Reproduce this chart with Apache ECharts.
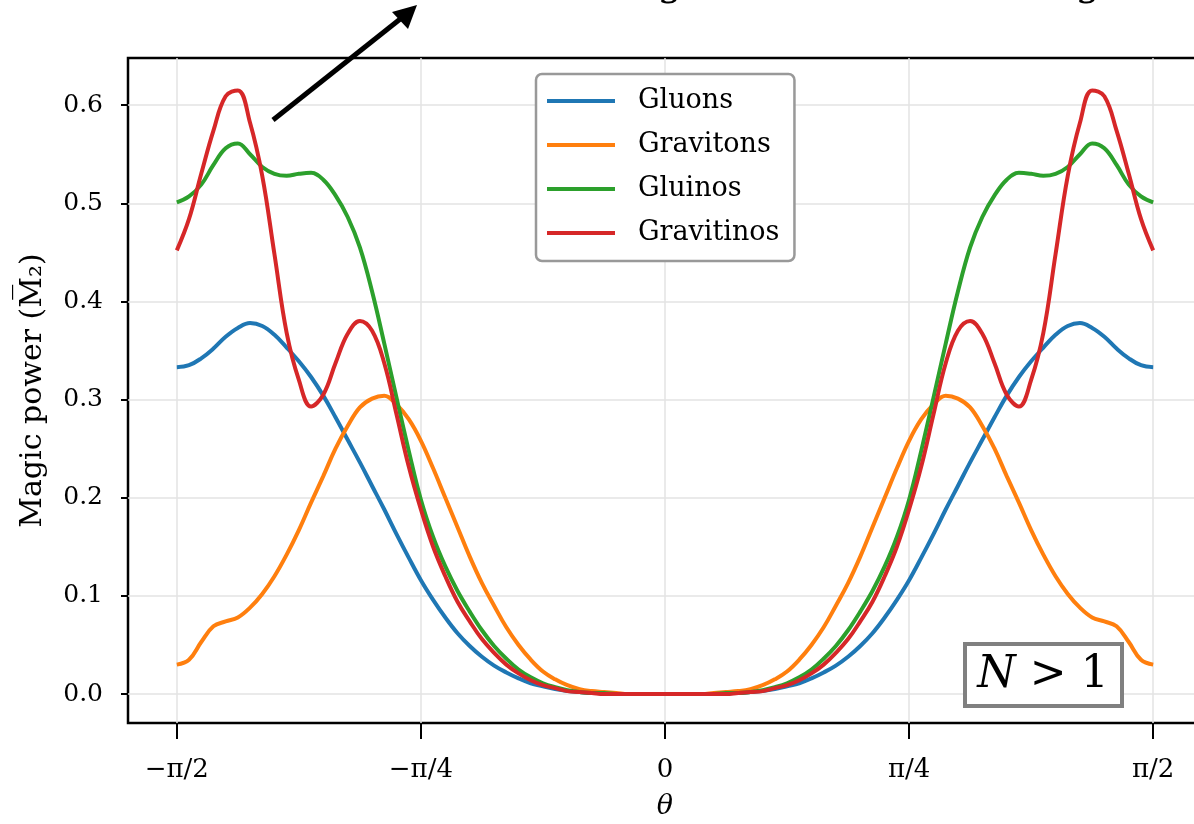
<!DOCTYPE html>
<html>
<head>
<meta charset="utf-8">
<script src="https://cdn.jsdelivr.net/npm/echarts@6/dist/echarts.min.js"></script>
<style>
  html, body { margin: 0; padding: 0; background: #fff; }
  #chart { width: 1194px; height: 824px; }
</style>
</head>
<body>
<div id="chart"></div>
<script>
// theta / pi
const thetaOverPi = [-0.5, -0.4875, -0.475, -0.4625, -0.45, -0.4375, -0.425, -0.4125, -0.4, -0.3875,
  -0.375, -0.3625, -0.35, -0.3375, -0.325, -0.3125, -0.3, -0.2875, -0.275, -0.2625,
  -0.25, -0.2375, -0.225, -0.2125, -0.2, -0.1875, -0.175, -0.1625, -0.15, -0.1375,
  -0.125, -0.1125, -0.1, -0.0875, -0.075, -0.0625, -0.05, -0.0375, -0.025, -0.0125,
  0,
  0.0125, 0.025, 0.0375, 0.05, 0.0625, 0.075, 0.0875, 0.1, 0.1125, 0.125,
  0.1375, 0.15, 0.1625, 0.175, 0.1875, 0.2, 0.2125, 0.225, 0.2375, 0.25,
  0.2625, 0.275, 0.2875, 0.3, 0.3125, 0.325, 0.3375, 0.35, 0.3625, 0.375,
  0.3875, 0.4, 0.4125, 0.425, 0.4375, 0.45, 0.4625, 0.475, 0.4875, 0.5]

const gluons = [0.333, 0.335, 0.342, 0.352, 0.364, 0.373, 0.378, 0.375, 0.366, 0.353,
  0.339, 0.323, 0.304, 0.282, 0.259, 0.236, 0.212, 0.188, 0.163, 0.139,
  0.116, 0.096, 0.078, 0.062, 0.049, 0.038, 0.029, 0.022, 0.016, 0.011,
  0.008, 0.005, 0.003, 0.002, 0.001, 0.001, 0.0, 0.0, 0.0, 0.0,
  0.0,
  0.0, 0.0, 0.0, 0.0, 0.001, 0.001, 0.002, 0.003, 0.005, 0.008,
  0.011, 0.016, 0.022, 0.029, 0.038, 0.049, 0.062, 0.078, 0.096, 0.116,
  0.139, 0.163, 0.188, 0.212, 0.236, 0.259, 0.282, 0.304, 0.323, 0.339,
  0.353, 0.366, 0.375, 0.378, 0.373, 0.364, 0.352, 0.342, 0.335, 0.333]

const gravitons = [0.030, 0.035, 0.053, 0.069, 0.074, 0.078, 0.088, 0.102, 0.120, 0.142,
  0.167, 0.195, 0.222, 0.250, 0.273, 0.292, 0.301, 0.304, 0.295, 0.280,
  0.258, 0.230, 0.200, 0.170, 0.140, 0.113, 0.090, 0.068, 0.050, 0.035,
  0.023, 0.015, 0.009, 0.005, 0.003, 0.002, 0.001, 0.0, 0.0, 0.0,
  0.0,
  0.0, 0.0, 0.0, 0.001, 0.002, 0.003, 0.005, 0.009, 0.015, 0.023,
  0.035, 0.050, 0.068, 0.090, 0.113, 0.140, 0.170, 0.200, 0.230, 0.258,
  0.280, 0.295, 0.304, 0.301, 0.292, 0.273, 0.250, 0.222, 0.195, 0.167,
  0.142, 0.120, 0.102, 0.088, 0.078, 0.074, 0.069, 0.053, 0.035, 0.030]

const gluinos = [0.501, 0.507, 0.519, 0.539, 0.556, 0.561, 0.550, 0.537, 0.530, 0.528,
  0.530, 0.531, 0.524, 0.508, 0.486, 0.455, 0.410, 0.357, 0.302, 0.248,
  0.198, 0.160, 0.130, 0.105, 0.084, 0.065, 0.049, 0.036, 0.025, 0.017,
  0.011, 0.007, 0.004, 0.002, 0.001, 0.001, 0.0, 0.0, 0.0, 0.0,
  0.0,
  0.0, 0.0, 0.0, 0.0, 0.001, 0.001, 0.002, 0.004, 0.007, 0.011,
  0.017, 0.025, 0.036, 0.049, 0.065, 0.084, 0.105, 0.130, 0.160, 0.198,
  0.248, 0.302, 0.357, 0.410, 0.455, 0.486, 0.508, 0.524, 0.531, 0.530,
  0.528, 0.530, 0.537, 0.550, 0.561, 0.556, 0.539, 0.519, 0.507, 0.501]

const gravitinos = [0.452, 0.484, 0.530, 0.574, 0.609, 0.615, 0.582, 0.528, 0.448, 0.368,
  0.320, 0.293, 0.305, 0.337, 0.367, 0.380, 0.370, 0.337, 0.285, 0.232,
  0.188, 0.150, 0.120, 0.094, 0.074, 0.056, 0.042, 0.030, 0.021, 0.014,
  0.009, 0.006, 0.003, 0.002, 0.001, 0.0, 0.0, 0.0, 0.0, 0.0,
  0.0,
  0.0, 0.0, 0.0, 0.0, 0.0, 0.001, 0.002, 0.003, 0.006, 0.009,
  0.014, 0.021, 0.030, 0.042, 0.056, 0.074, 0.094, 0.120, 0.150, 0.188,
  0.232, 0.285, 0.337, 0.370, 0.380, 0.367, 0.337, 0.305, 0.293, 0.320,
  0.368, 0.448, 0.528, 0.582, 0.615, 0.609, 0.574, 0.530, 0.484, 0.452]

const xTicks = [-0.5, -0.25, 0, 0.25, 0.5]
const xTickLabels = ['\u2212\u03c0/2', '\u2212\u03c0/4', '0', '\u03c0/4', '\u03c0/2']
const yTicks = [0, 0.1, 0.2, 0.3, 0.4, 0.5, 0.6]

const seriesNames = ['Gluons', 'Gravitons', 'Gluinos', 'Gravitinos']
const seriesColors = ['#1f77b4', '#ff7f0e', '#2ca02c', '#d62728']
const seriesValues = [gluons, gravitons, gluinos, gravitinos]

const font = 'DejaVu Serif'

const chart = echarts.init(document.getElementById('chart'))

const option = {
  animation: false,
  grid: {
    left: 128, top: 58, width: 1074, height: 665,
    outerBoundsMode: 'none', containLabel: false,
    show: true, borderColor: '#000', borderWidth: 2.5
  },
  xAxis: {
    type: 'value',
    min: -0.55, max: 0.55,
    axisLine: { show: false, onZero: false },
    axisTick: { show: true, customValues: xTicks, length: 16, lineStyle: { color: '#000', width: 2 } },
    axisLabel: {
      customValues: xTicks, margin: 34, color: '#000', fontFamily: font, fontSize: 26,
      formatter: v => xTickLabels[xTicks.indexOf(v)]
    },
    splitLine: { show: true, lineStyle: { color: '#e3e3e3', width: 1.5 } },
    name: '\u03b8', nameLocation: 'middle', nameGap: 70,
    nameTextStyle: { color: '#000', fontFamily: font, fontSize: 27, fontStyle: 'italic' }
  },
  yAxis: {
    type: 'value',
    min: -0.0295, max: 0.648,
    axisLine: { show: false, onZero: false },
    axisTick: { show: true, customValues: yTicks, length: 7, lineStyle: { color: '#000', width: 2 } },
    axisLabel: {
      customValues: yTicks, margin: 25, color: '#000', fontFamily: font, fontSize: 25,
      formatter: v => v.toFixed(1)
    },
    splitLine: { show: true, lineStyle: { color: '#e3e3e3', width: 1.5 } },
    name: 'Magic power (M\u0305\u2082)', nameLocation: 'middle', nameRotate: 90, nameGap: 80,
    nameTextStyle: { color: '#000', fontFamily: font, fontSize: 30 }
  },
  legend: {
    orient: 'vertical',
    left: 536, top: 74,
    padding: [12, 15, 13, 11],
    backgroundColor: '#fff',
    borderColor: '#999', borderWidth: 2.5, borderRadius: 6,
    icon: 'rect', itemWidth: 68, itemHeight: 4, itemGap: 14,
    textStyle: { color: '#000', fontFamily: font, fontSize: 27, lineHeight: 30, padding: [0, 0, 0, 18] },
    data: seriesNames
  },
  series: seriesNames.map((name, i) => ({
    name: name,
    type: 'line',
    data: thetaOverPi.map((x, j) => [x, seriesValues[i][j]]),
    smooth: 0.4,
    showSymbol: false,
    symbol: 'none',
    color: seriesColors[i],
    lineStyle: { width: 4, color: seriesColors[i] },
    z: 2 + i
  })),
  graphic: [
    { type: 'line', shape: { x1: 273, y1: 120, x2: 404, y2: 16 }, style: { stroke: '#000', lineWidth: 5 }, z: 100 },
    { type: 'polygon', shape: { points: [[417, 5], [392, 12], [408, 29]] }, style: { fill: '#000' }, z: 100 },
    { type: 'text', x: 670, y: 5, style: { text: 'g', font: '40px ' + font, fill: '#000', align: 'center', verticalAlign: 'bottom' } },
    { type: 'text', x: 1088, y: 5, style: { text: 'g', font: '40px ' + font, fill: '#000', align: 'center', verticalAlign: 'bottom' } },
    { type: 'rect', shape: { x: 965, y: 644, width: 157, height: 62 }, style: { fill: '#fff', stroke: '#808080', lineWidth: 4 }, z: 100 },
    {
      type: 'text', x: 1043, y: 676, z: 101,
      style: {
        text: '{i|N} > 1', align: 'center', verticalAlign: 'middle',
        font: '44px ' + font, fill: '#000',
        rich: { i: { fontFamily: font, fontSize: 44, fontStyle: 'italic', fill: '#000' } }
      }
    }
  ]
}

chart.setOption(option)
</script>
</body>
</html>
